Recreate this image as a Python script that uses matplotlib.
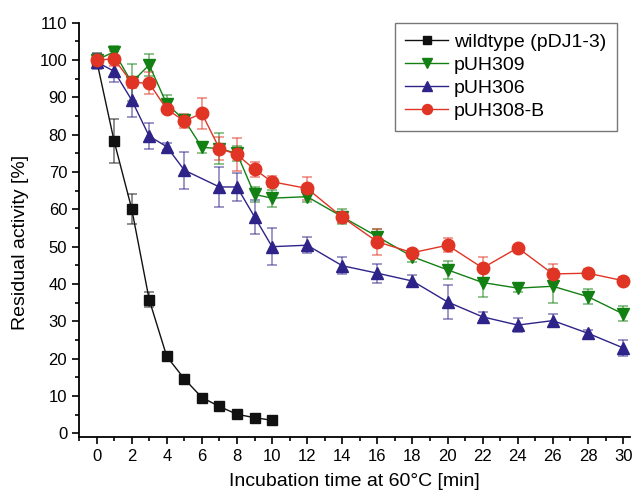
#!/usr/bin/env python3
import matplotlib
matplotlib.use('Agg')
import matplotlib.pyplot as plt
from matplotlib.ticker import MultipleLocator

# data
t_wt = [0, 1, 2, 3, 4, 5, 6, 7, 8, 9, 10]
wt = [100, 78.3, 60.2, 35.8, 20.6, 14.6, 9.6, 7.2, 5.1, 4.2, 3.5]
wt_err = [2, 6, 4, 2, 0.5, 0.5, 0.5, 0.5, 0.5, 0.5, 0.5]

t_full = [0, 1, 2, 3, 4, 5, 6, 7, 8, 9, 10, 12, 14, 16, 18, 20, 22, 24, 26, 28, 30]
puh309 = [100, 102.2, 94, 98.7, 88.2, 84, 76.6, 76.3, 75, 64, 63, 63.4, 58, 52.7, 47.3, 43.8, 40.4, 38.9, 39.4, 36.6, 32]
puh309_err = [1.5, 1.5, 5, 3, 2.5, 1, 1.5, 4.2, 2, 2, 2.3, 1.5, 2, 2, 1.5, 2.5, 4, 1, 4.5, 2, 2]

t_306 = [0, 1, 2, 3, 4, 5, 7, 8, 9, 10, 12, 14, 16, 18, 20, 22, 24, 26, 28, 30]
puh306 = [99.5, 97, 89.3, 79.6, 76.8, 70.5, 66, 66, 58, 50, 50.4, 44.9, 42.9, 40.8, 35.2, 31.2, 29, 30.2, 26.8, 22.9]
puh306_err = [2, 3, 4.5, 3.5, 1, 5, 5.3, 3.8, 4.5, 5, 2.2, 2.3, 2.5, 1.5, 4.5, 1.2, 1.8, 1.8, 1, 2.1]

puh308b = [100, 100.3, 94, 93.8, 86.8, 83.7, 85.7, 76.3, 74.7, 70.7, 67.4, 65.6, 57.9, 51.3, 48.4, 50.4, 44.3, 49.7, 42.7, 42.9, 40.9]
puh308b_err = [1, 2, 1.5, 3, 1, 1.8, 4.2, 3, 4.5, 2, 1.5, 3.1, 1.5, 3.5, 1, 1.8, 3, 0.5, 2.6, 1, 1]

x_ticks = list(range(0, 31, 2))
y_ticks = list(range(0, 111, 10))

plt.rcParams['font.family'] = ['Liberation Sans', 'DejaVu Sans']

fig = plt.figure(figsize=(6.32, 4.94), dpi=100)
ax = fig.add_axes([0.125, 0.116, 0.872, 0.838])

series = [
    (t_wt, wt, wt_err, 'wildtype (pDJ1-3)', '#111111', 's', 7),
    (t_full, puh309, puh309_err, 'pUH309', '#138013', 'v', 9),
    (t_306, puh306, puh306_err, 'pUH306', '#2e2388', '^', 9),
    (t_full, puh308b, puh308b_err, 'pUH308-B', '#e03424', 'o', 9),
]

handles = []
for x, y, err, label, color, marker, ms in series:
    cont = ax.errorbar(x, y, yerr=err, color=color, marker=marker, markersize=ms,
                       linewidth=1, elinewidth=1.2, capsize=3.5, capthick=1.2,
                       ecolor=matplotlib.colors.to_rgba(color, 0.55), label=label)
    handles.append(cont.lines[0])

ax.set_xlim(-1, 30.4)
ax.set_ylim(-0.9, 110)
ax.set_xticks(x_ticks)
ax.set_yticks(y_ticks)
ax.xaxis.set_minor_locator(MultipleLocator(1))
ax.yaxis.set_minor_locator(MultipleLocator(5))
ax.tick_params(which='major', direction='out', length=5, width=1.2, labelsize=12)
ax.tick_params(which='minor', direction='out', length=3, width=1.2)

for side in ['top', 'right']:
    ax.spines[side].set_visible(False)
for side in ['left', 'bottom']:
    ax.spines[side].set_linewidth(1.3)

ax.set_xlabel('Incubation time at 60°C [min]', fontsize=14, labelpad=7)
ax.set_ylabel('Residual activity [%]', fontsize=14, labelpad=6)
ax.yaxis.set_label_coords(-0.09, 0.47)

leg = ax.legend(handles=handles, labels=[s[3] for s in series],
                loc='upper right', bbox_to_anchor=(0.976, 1.0), borderaxespad=0,
                fontsize=14, fancybox=False, edgecolor='#555555', handlelength=2.2,
                borderpad=0.55, labelspacing=0.28, handletextpad=0.3,
                markerscale=0.8)
leg.get_frame().set_linewidth(1.0)

fig.savefig('out.png', dpi=100)
